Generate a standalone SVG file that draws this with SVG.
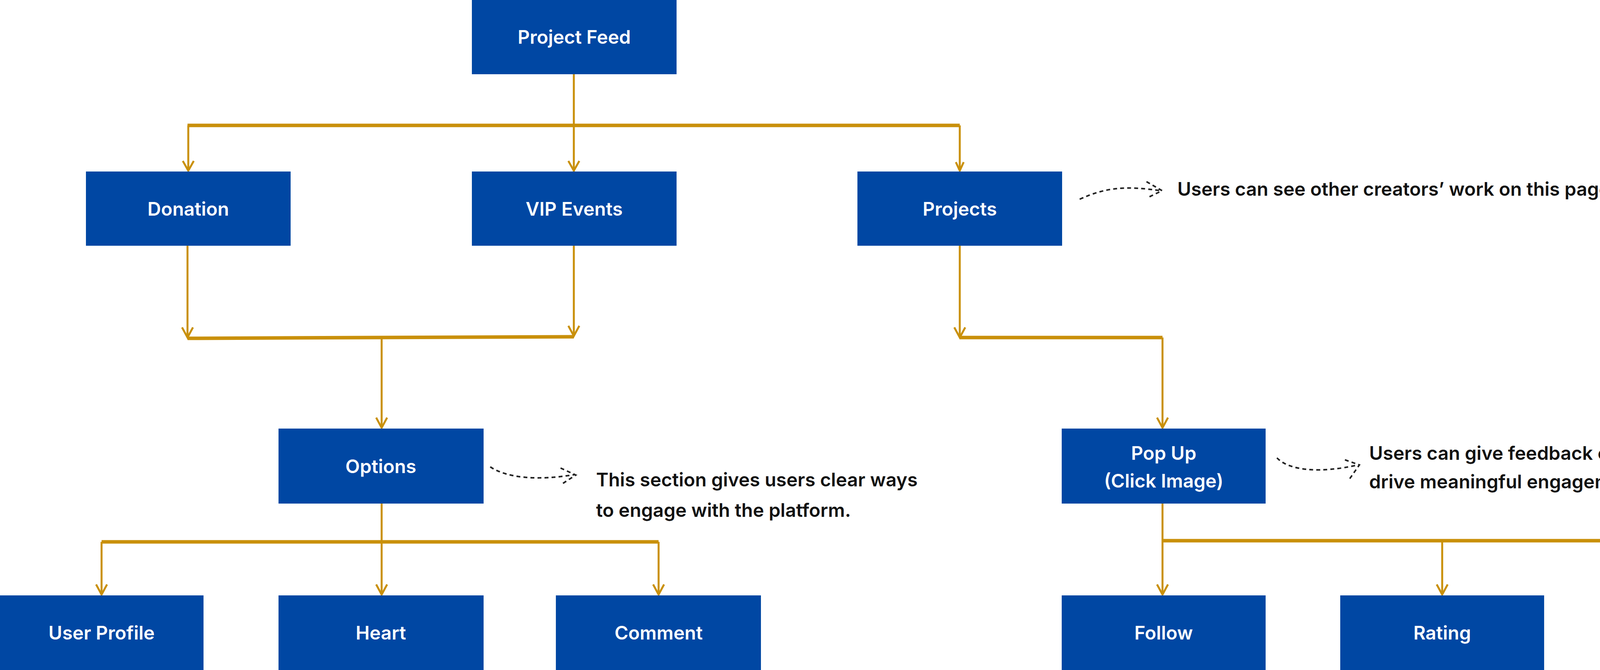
<svg xmlns="http://www.w3.org/2000/svg" width="5377" height="1715" viewBox="0 0 5377 1715">
<defs>
<style>
.box{fill:#0047A3}
.lbl{fill:#fff;font-family:Inter,"Liberation Sans",sans-serif;font-weight:600;font-size:48px;text-anchor:middle}
.note{fill:#111;font-family:Inter,"Liberation Sans",sans-serif;font-weight:600;font-size:48px}
.c{stroke:#C9900A;stroke-width:5;fill:none}
.bus{stroke:#C9900A;stroke-width:9;fill:none}
.d{stroke:#222;stroke-width:4;fill:none;stroke-dasharray:10 8}
</style>
</defs>
<rect width="5377" height="1715" fill="#fff"/>
<g id="connectors">
<path class="c" d="M1469 189V439"/>
<path class="bus" d="M480 321H2457"/>
<path class="c" d="M482 321V437M2457 321V437"/>
<path class="c" d="M480 628V864M1469 628V860M2457 628V864"/>
<path class="bus" d="M480 866L1469 862M2457 864H2976"/>
<path class="c" d="M977 864V1095M2976 864V1095"/>
<path class="bus" d="M260 1387H1686M2976 1384H5115"/>
<path class="c" d="M977 1289V1522M260 1387V1522M1686 1387V1522M2976 1289V1522M3692 1384V1522M4403 1384V1522M5115 1384V1522"/>
<g stroke="#C9900A" stroke-width="5" fill="none">
<path d="M468 412L482 437L496 412"/><path d="M1455 412L1469 437L1483 412"/><path d="M2447 415L2457 437L2467 415"/>
<path d="M466 838L480 864L494 838"/><path d="M1455 834L1469 860L1483 834"/><path d="M2443 838L2457 864L2471 838"/>
<path d="M963 1069L977 1095L991 1069"/><path d="M2962 1069L2976 1095L2990 1069"/>
<path d="M246 1496L260 1522L274 1496"/><path d="M963 1496L977 1522L991 1496"/><path d="M1672 1496L1686 1522L1700 1496"/>
<path d="M2962 1496L2976 1522L2990 1496"/><path d="M3678 1496L3692 1522L3706 1496"/><path d="M4389 1496L4403 1522L4417 1496"/><path d="M5101 1496L5115 1522L5129 1496"/>
</g>
<path class="d" d="M2764 510C2830 480 2880 475 2970 488"/>
<path class="d" d="M2935 465L2975 488L2940 505"/>
<path class="d" d="M1255 1195C1300 1225 1380 1230 1470 1215"/>
<path class="d" d="M1435 1198L1474 1216L1440 1238"/>
<path class="d" d="M3269 1172C3300 1205 3380 1212 3477 1190"/>
<path class="d" d="M3443 1177L3480 1190L3452 1230"/>
</g>
<g id="n1"><rect class="box" x="1208" y="0" width="524" height="190"/><text class="lbl" x="1470" y="112">Project Feed</text></g>
<g id="n2"><rect class="box" x="220" y="439" width="524" height="190"/><text class="lbl" x="482" y="552">Donation</text></g>
<g id="n3"><rect class="box" x="1208" y="439" width="524" height="190"/><text class="lbl" x="1470" y="552">VIP Events</text></g>
<g id="n4"><rect class="box" x="2195" y="439" width="524" height="190"/><text class="lbl" x="2457" y="552">Projects</text></g>
<g id="n5"><rect class="box" x="713" y="1097" width="525" height="192"/><text class="lbl" x="975" y="1211">Options</text></g>
<g id="n6"><rect class="box" x="2718" y="1097" width="522" height="192"/><text class="lbl" x="2979" y="1177">Pop Up</text><text class="lbl" x="2979" y="1248">(Click Image)</text></g>
<g id="n7"><rect class="box" x="0" y="1524" width="521" height="191"/><text class="lbl" x="260" y="1637">User Profile</text></g>
<g id="n8"><rect class="box" x="713" y="1524" width="525" height="191"/><text class="lbl" x="975" y="1637">Heart</text></g>
<g id="n9"><rect class="box" x="1423" y="1524" width="525" height="191"/><text class="lbl" x="1686" y="1637">Comment</text></g>
<g id="n10"><rect class="box" x="2718" y="1524" width="522" height="191"/><text class="lbl" x="2979" y="1637">Follow</text></g>
<g id="n11"><rect class="box" x="3431" y="1524" width="522" height="191"/><text class="lbl" x="3692" y="1637">Rating</text></g>
<g id="n12"><rect class="box" x="4143" y="1524" width="522" height="191"/><text class="lbl" x="4404" y="1637">Suggestion</text></g>
<g id="n13"><rect class="box" x="4854" y="1524" width="523" height="191"/><text class="lbl" x="5115" y="1637">See More</text></g>
<g id="notes">
<text class="note" x="3014" y="501" font-size="54">Users can see other creators’ work on this page.</text>
<text class="note" x="1526" y="1245">This section gives users clear ways</text>
<text class="note" x="1526" y="1323">to engage with the platform.</text>
<text class="note" x="3505" y="1177">Users can give feedback on other creators’ work, helping</text>
<text class="note" x="3505" y="1250">drive meaningful engagement within the community.</text>
</g>
</svg>
